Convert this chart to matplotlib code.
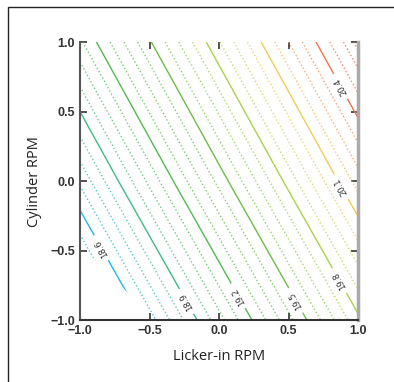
import numpy as np
import matplotlib.pyplot as plt
from matplotlib.colors import LinearSegmentedColormap
from matplotlib.patches import Polygon, Rectangle

# response values on a coarse grid
lick = [-1.0, 0.0, 1.0]
cyl = [-1.0, 0.0, 1.0]
resp = [[18.26, 19.02, 19.78],
        [18.69, 19.45, 20.21],
        [19.11, 19.87, 20.63]]

major_levels = [18.6, 18.9, 19.2, 19.5, 19.8, 20.1, 20.4]
minor_levels = [18.3, 18.375, 18.45, 18.525,
                18.675, 18.75, 18.825,
                18.975, 19.05, 19.125,
                19.275, 19.35, 19.425,
                19.575, 19.65, 19.725,
                19.875, 19.95, 20.025,
                20.175, 20.25, 20.325,
                20.475, 20.55, 20.605]
label_pos = [(-0.83, -0.47), (-0.19, -0.84), (0.20, -0.79), (0.60, -0.83),
             (0.91, -0.69), (0.93, -0.01), (0.89, 0.69)]

cmap = LinearSegmentedColormap.from_list(
    'resp', [(0.0, '#1fb6ee'), (0.09, '#1fb6ee'), (0.23, '#3fbb86'), (0.37, '#55b950'),
             (0.51, '#6cbd48'), (0.65, '#add04c'), (0.79, '#f0cc55'),
             (0.93, '#ef7450'), (1.0, '#ee6a4a')])

fig = plt.figure(figsize=(3.94, 3.82), dpi=100)
ax = fig.add_axes([0.203, 0.162, 0.706, 0.728])

X, Y = np.meshgrid(lick, cyl)
Z = np.array(resp)

clip = Polygon([(-1, -0.46), (-1, 1), (1, 1), (1, -1), (-0.46, -1)],
               transform=ax.transData, closed=True)

cs_min = ax.contour(X, Y, Z, levels=minor_levels, cmap=cmap, vmin=18.4, vmax=20.55,
                    linewidths=1.0, linestyles=':', alpha=0.8)
cs_maj = ax.contour(X, Y, Z, levels=major_levels, cmap=cmap, vmin=18.4, vmax=20.55,
                    linewidths=1.0, linestyles='-')
cs_min.set_clip_path(clip)
cs_maj.set_clip_path(clip)

lbls = ax.clabel(cs_maj, major_levels, manual=label_pos, fmt='%.1f', fontsize=6,
                 inline=True, colors='#333333')
for t in lbls:
    t.set_rotation(t.get_rotation() + 180)

ax.set_xlim(-1, 1)
ax.set_ylim(-1, 1)
ax.set_xticks([-1.0, -0.5, 0.0, 0.5, 1.0])
ax.set_yticks([-1.0, -0.5, 0.0, 0.5, 1.0])
ax.tick_params(direction='in', length=5, width=1.2, color='#333333',
               labelsize=9, labelcolor='#333333', top=True, right=True)
for lab in ax.get_xticklabels() + ax.get_yticklabels():
    lab.set_fontweight('bold')
    lab.set_family('Liberation Sans')

ax.spines['top'].set_visible(False)
ax.spines['left'].set_color('#555555')
ax.spines['left'].set_linewidth(1.5)
ax.spines['bottom'].set_color('#333333')
ax.spines['bottom'].set_linewidth(1.5)
ax.spines['right'].set_color('#aaaaaa')
ax.spines['right'].set_linewidth(2.5)

ax.set_xlabel('Licker-in RPM', fontsize=10.5, family='Open Sans', color='#222222', labelpad=9)
ax.set_ylabel('Cylinder RPM', fontsize=10.5, family='Open Sans', color='#222222', labelpad=6)

fig.patches.append(Rectangle((0.02, -0.05), 1.0, 1.032, transform=fig.transFigure,
                             fill=False, edgecolor='#222222', linewidth=1.0))

fig.savefig('out.png', dpi=100)
